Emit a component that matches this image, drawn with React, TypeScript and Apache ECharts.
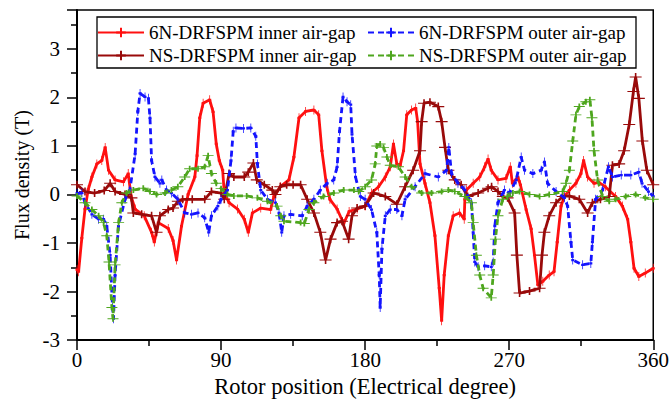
import React, { useEffect, useRef } from "react";
import * as echarts from "echarts";

const FONT = "'Liberation Serif', 'Times New Roman', serif";

// 6N-DRFSPM inner air-gap
const innerSixDeg = [0, 1, 3, 5, 7, 9.3, 12.4, 15.5, 17.6, 19.7, 23.8, 29, 32, 33.8, 36.3, 42, 46.6, 48.3, 50.8, 57, 60, 62.2, 65.3, 69.4, 73.6, 75, 76.7, 78.8, 82.9, 85, 87, 88.9, 91, 92, 95, 100.3, 104.5, 107, 109.6, 114.8, 121, 123, 127, 132.4, 135.5, 138.7, 142.8, 148, 151, 153, 156, 158, 162.5, 166.6, 170, 175, 180, 184, 188.4, 192.6, 195.7, 197.7, 199.8, 201.9, 204, 206, 209, 211.6, 212.8, 214.3, 217.4, 220.5, 223.6, 226.3, 227.8, 229.4, 232, 235, 239, 241.9, 242.3, 243.3, 247.5, 251.6, 254.7, 256.8, 258.8, 263, 268, 270.7, 272, 275.4, 277, 280.6, 283.7, 285.8, 287.9, 291, 295, 298, 300, 302.4, 304.5, 307.6, 311.7, 314.8, 316.5, 319, 323, 326, 330, 336.5, 340.7, 344, 346, 348, 351, 355, 360];
const innerSixVal = [-1.55, -1.59, -0.9, -0.3, 0.1, 0.36, 0.63, 0.7, 0.97, 0.5, 0.3, 0.26, 0.43, -0.04, -0.3, -0.44, -0.78, -0.98, -0.58, -0.7, -0.95, -1.35, -0.65, 0, 0.36, 0.8, 1.58, 1.88, 1.95, 1.7, 1.04, 0.7, 0.5, 0.03, -0.17, -0.3, -0.51, -0.78, -0.38, -0.28, -0.31, -0.04, 0.16, 0.3, 0.77, 1.58, 1.71, 1.74, 1.64, 0.9, 0.16, -0.1, -0.3, -0.6, -0.35, -0.3, -0.24, 0.03, 0.16, 0.36, 0.57, 1.04, 0.63, 0.6, 0.9, 1.64, 1.74, 1.78, 1.5, 0.63, 0.23, -0.17, -0.85, -1.93, -2.6, -1.66, -0.85, -0.44, -0.38, -0.51, -0.1, 0.09, 0.23, 0.36, 0.57, 0.73, 0.5, 0.3, 0.33, 0.57, 0.23, 0.36, 0.2, -0.31, -0.71, -1.25, -1.86, -1.79, -1.66, -1.59, -0.98, -0.24, -0.04, 0.09, 0.23, 0.43, 0.7, 0.36, 0.23, 0.25, 0.16, -0.04, -0.24, -0.51, -0.98, -1.52, -1.69, -1.62, -1.52];

// NS-DRFSPM inner air-gap
const innerNsDeg = [0, 5, 11, 17, 20.7, 23.8, 30, 34, 35.2, 40.4, 46.6, 49.7, 51.8, 57, 60, 63, 66, 72, 79.8, 84, 90, 92, 95, 98, 104.5, 107, 110.2, 112.3, 117, 122, 124, 127, 131, 135, 139.7, 143.8, 148, 152, 155.3, 158.4, 162.5, 165.6, 169.7, 171.8, 175, 180, 185.3, 192.6, 199.8, 205, 210, 214.3, 215.3, 216.8, 220.5, 225.7, 227.8, 229.9, 232, 236, 240, 244, 250.6, 256.8, 259, 263, 266, 269, 273.4, 274.8, 276.5, 282.7, 289, 290.5, 292, 295, 299.3, 303.4, 307.6, 313.8, 319, 322, 327, 332.5, 334.5, 338.7, 341.8, 345, 347.6, 349, 351, 353.2, 356, 360];
const innerNsVal = [0.2, 0.06, 0.03, 0.08, 0.23, 0.06, 0, -0.07, -0.38, -0.41, -0.44, -0.78, -0.44, -0.31, -0.28, -0.14, -0.1, -0.1, -0.1, 0.06, 0.03, -0.1, 0.43, 0.36, 0.36, 0.46, 0.65, 0.3, 0.2, 0.09, 0, 0.16, 0.2, 0.2, 0.2, -0.1, -0.38, -0.78, -1.35, -0.92, -0.58, -0.55, -0.92, -0.44, -0.28, -0.24, 0.03, -0.04, -0.2, 0.16, 0.5, 0.9, 1.5, 1.88, 1.9, 1.81, 1.5, 0.97, 0.5, 0.3, 0.2, -0.04, 0.03, 0.13, 0.16, 0.06, -0.04, -0.07, -0.38, -1.25, -2.03, -1.99, -1.93, -1.25, -0.78, -0.44, -0.17, -0.04, -0.03, -0.1, -0.38, -0.17, -0.1, -0.04, 0.6, 0.63, 0.9, 1.44, 2.12, 2.42, 1.98, 1.1, 0.5, 0.2];

// 6N-DRFSPM outer air-gap
const outerSixDeg = [0, 3, 5, 9.3, 13.5, 16.6, 18.6, 20.7, 22.2, 22.8, 23.8, 25.9, 30, 33, 36.3, 38, 39.4, 42.5, 44.6, 45.6, 46.6, 48.7, 51.8, 53, 56, 59, 63, 67.3, 71.5, 75.6, 79.8, 82.3, 84, 88, 90, 94, 96.2, 97.6, 99.3, 104, 108.6, 111.7, 112.7, 114.8, 119, 124, 126.2, 127.9, 129.3, 133.5, 140.7, 143.8, 148, 152, 156.3, 160.4, 162.5, 164, 166.2, 168.7, 171, 171.8, 174, 177, 180, 184, 187.3, 188.8, 189.4, 190.5, 192.6, 195.7, 199.8, 203, 205, 211.2, 217.4, 225.7, 230.9, 232.3, 234, 238, 242.3, 246.4, 247.5, 248.5, 250.6, 254.7, 258.8, 260, 261, 263, 267, 270.3, 274.4, 277.5, 279.6, 284.8, 290, 292, 294, 299.3, 304.5, 306.5, 308.6, 309.7, 315.9, 321, 322, 324, 328.3, 332, 334.5, 340, 346, 351, 353, 357, 360];
const outerSixVal = [0.02, 0.03, -0.17, -0.41, -0.51, -0.51, -0.65, -1.25, -2.33, -2.56, -1.66, -0.65, -0.1, 0.09, 0.83, 1.71, 2.08, 2.01, 1.98, 1.58, 0.7, 0.36, 0.23, 0.3, 0.09, 0.03, -0.1, -0.38, -0.41, -0.38, -0.48, -0.78, -0.44, -0.24, -0.1, 0.09, 0.7, 1.3, 1.37, 1.36, 1.37, 1.2, 0.63, 0.09, -0.1, -0.17, -0.38, -0.78, -0.44, -0.41, -0.44, -0.24, -0.1, 0.09, 0.23, 0.3, 0.57, 1.3, 2.01, 1.91, 1.85, 1.24, 0.36, -0.04, -0.1, -0.31, -0.78, -1.66, -2.33, -1.12, -0.44, -0.31, -0.31, -0.44, -0.1, 0.16, 0.43, 0.36, 0.5, 0.97, 0.43, 0.23, 0.09, -0.17, -0.78, -1.39, -1.49, -1.47, -1.49, -1.39, -0.65, -0.17, 0.09, 0.03, 0.3, 0.77, 0.5, 0.43, 0.5, 0.67, 0.23, 0.06, -0.07, -0.24, -0.98, -1.35, -1.45, -1.42, -0.98, -0.1, 0.09, 0.57, 0.36, 0.4, 0.4, 0.46, 0.23, 0.06, -0.04];

// NS-DRFSPM outer air-gap
const outerNsDeg = [0, 5, 9.3, 13.5, 16.6, 18.6, 20, 21.8, 22.5, 23.8, 26, 28, 31, 35.2, 41.4, 45.6, 49.7, 55, 59, 63, 67.3, 70.4, 75.6, 79.8, 81.9, 84, 87, 90, 94, 98, 106, 112.7, 119, 125, 127.3, 129.3, 139.7, 142, 144.9, 148, 154, 160.4, 166.6, 173, 176, 180, 184, 186.3, 187.3, 189.4, 191.5, 193.6, 195.7, 200.8, 205, 209, 215.3, 221.5, 227.8, 232, 236, 242.3, 246.4, 247.5, 249.5, 251.6, 253.7, 258.8, 260, 261.4, 263, 266, 269, 272.3, 276.5, 282.7, 289, 295, 303.4, 305.5, 307.6, 309.7, 311.7, 313.8, 317.9, 320.4, 321.7, 323, 325.2, 328.3, 332.5, 336.5, 342.8, 349, 355, 360];
const outerNsVal = [-0.03, -0.17, -0.31, -0.44, -0.58, -0.85, -1.39, -2.33, -2.56, -1.45, -0.58, -0.17, 0.03, 0.09, 0.13, 0.06, 0, 0.03, 0.09, 0.16, 0.36, 0.53, 0.53, 0.57, 0.8, 0.43, 0.23, 0.12, 0, -0.03, -0.03, -0.07, -0.14, -0.24, -0.44, -0.55, -0.58, -0.6, -0.31, -0.17, -0.04, 0.03, 0.09, 0.09, 0.06, 0.16, 0.3, 0.63, 1.0, 1.04, 0.97, 0.77, 0.6, 0.57, 0.36, 0.16, 0.03, 0.03, 0.06, 0.09, 0.06, -0.04, -0.17, -0.58, -1.25, -1.66, -1.93, -2.13, -1.66, -0.92, -0.44, -0.1, -0.04, 0.03, 0.06, 0, -0.04, 0, 0.06, 0.23, 0.5, 1.1, 1.64, 1.81, 1.91, 1.95, 1.58, 0.9, 0.3, -0.04, -0.14, -0.1, -0.04, 0, -0.07, -0.1];

const xTicks = { min: 0, max: 360, interval: 90 };
const yTicks = { min: -3, max: 3.8, interval: 1 };

const zip = (xs: number[], ys: number[]) => xs.map((x, i) => [x, ys[i]]);

const PLUS = "path://M5,0L5,10M0,5L10,5";

export default function App() {
  const ref = useRef<HTMLDivElement>(null);
  useEffect(() => {
    document.body.style.margin = "0";
    const chart = echarts.init(ref.current!, null, { renderer: "svg" });
    const legendText = { fontFamily: FONT, fontSize: 19, color: "#000" };
    const mk = (
      name: string,
      data: number[][],
      color: string,
      width: number,
      type: any,
      symSize: number[],
      z: number
    ) => ({
      name,
      type: "line",
      data,
      z,
      symbol: PLUS,
      symbolSize: symSize,
      showSymbol: true,
      itemStyle: { color, borderColor: color, borderWidth: 1.3 },
      lineStyle: { color, width, type },
      emphasis: { disabled: true },
    });
    chart.setOption({
      animation: false,
      backgroundColor: "#fff",
      textStyle: { fontFamily: FONT },
      grid: {
        left: 77,
        right: 17,
        top: 10,
        bottom: 56,
        show: true,
        borderColor: "#000",
        borderWidth: 1.5,
        backgroundColor: "transparent",
      },
      graphic: [
        {
          type: "rect",
          shape: { x: 97, y: 17, width: 539, height: 51 },
          style: { fill: "transparent", stroke: "#000", lineWidth: 1.3 },
          z: 10,
        },
      ],
      legend: [
        {
          data: ["6N-DRFSPM inner air-gap", "NS-DRFSPM inner air-gap"],
          orient: "vertical",
          left: 97,
          top: 23,
          itemWidth: 46,
          itemHeight: 12,
          itemGap: 4,
          padding: 0,
          textStyle: legendText,
        },
        {
          data: ["6N-DRFSPM outer air-gap", "NS-DRFSPM outer air-gap"],
          orient: "vertical",
          left: 367,
          top: 23,
          itemWidth: 46,
          itemHeight: 12,
          itemGap: 4,
          padding: 0,
          textStyle: legendText,
        },
      ],
      xAxis: {
        type: "value",
        min: xTicks.min,
        max: xTicks.max,
        interval: xTicks.interval,
        name: "Rotor position (Electrical degree)",
        nameLocation: "middle",
        nameGap: 33,
        nameTextStyle: { fontFamily: FONT, fontSize: 22.5, color: "#000" },
        axisLine: { onZero: false, lineStyle: { color: "#000", width: 2 } },
        axisTick: { length: 10, lineStyle: { color: "#000", width: 1.5 } },
        minorTick: { show: true, splitNumber: 2, length: 6, lineStyle: { color: "#000", width: 1.5 } },
        axisLabel: { fontFamily: FONT, fontSize: 21, color: "#000", margin: 9 },
        splitLine: { show: false },
      },
      yAxis: {
        type: "value",
        min: yTicks.min,
        max: yTicks.max,
        interval: yTicks.interval,
        name: "Flux density (T)",
        nameLocation: "middle",
        nameGap: 40,
        nameTextStyle: { fontFamily: FONT, fontSize: 20, color: "#000" },
        axisLine: { onZero: false, lineStyle: { color: "#000", width: 2 } },
        axisTick: { length: 10, lineStyle: { color: "#000", width: 1.5 } },
        minorTick: { show: true, splitNumber: 2, length: 6, lineStyle: { color: "#000", width: 1.5 } },
        axisLabel: {
          fontFamily: FONT,
          fontSize: 21,
          color: "#000",
          margin: 17,
          formatter: (v: number) => (Number.isInteger(v) ? String(v) : ""),
        },
        splitLine: { show: false },
      },
      series: [
        mk("6N-DRFSPM inner air-gap", zip(innerSixDeg, innerSixVal), "#ff1010", 2.8, "solid", [3, 9], 2),
        mk("NS-DRFSPM inner air-gap", zip(innerNsDeg, innerNsVal), "#990a0a", 2.8, "solid", [12, 8], 3),
        mk("6N-DRFSPM outer air-gap", zip(outerSixDeg, outerSixVal), "#1414ff", 2.8, [6, 4], [3, 9], 4),
        mk("NS-DRFSPM outer air-gap", zip(outerNsDeg, outerNsVal), "#4ea61e", 2.8, [6, 4], [11, 6], 5),
      ],
    });
    return () => chart.dispose();
  }, []);
  return <div ref={ref} style={{ width: 672, height: 403 }} />;
}
